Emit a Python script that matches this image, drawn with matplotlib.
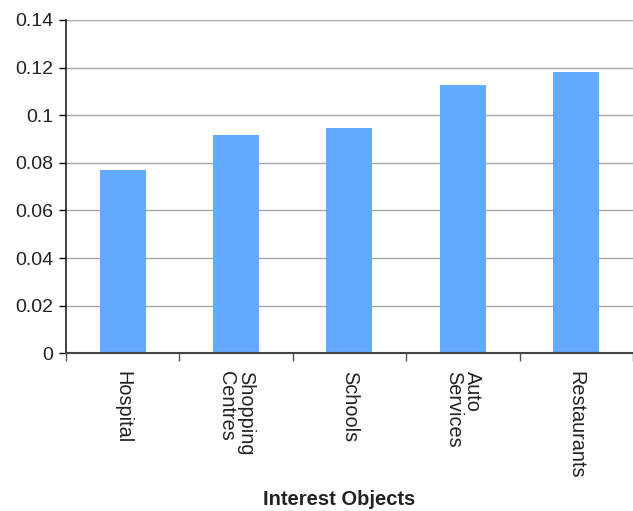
import matplotlib
matplotlib.use('Agg')
import matplotlib.pyplot as plt
import numpy as np

plt.rcParams['font.family'] = ['Liberation Sans', 'DejaVu Sans']

categories = ['Hospital', 'Shopping\nCentres', 'Schools', 'Auto\nServices', 'Restaurants']
values = [0.0770, 0.0917, 0.0946, 0.1127, 0.1181]
yticks = [0, 0.02, 0.04, 0.06, 0.08, 0.1, 0.12, 0.14]
ytick_labels = ['0', '0.02', '0.04', '0.06', '0.08', '0.1', '0.12', '0.14']

fig = plt.figure(figsize=(6.33, 5.11), dpi=100)
ax = fig.add_axes([0.104, 0.3086, 0.896, 0.6523])

x = np.arange(len(categories)) + 0.5
ax.bar(x, values, width=0.405, color='#62A9FF', zorder=2)

ax.set_xlim(0, len(categories))
ax.set_ylim(0, 0.14)

ax.set_yticks(yticks)
ax.set_yticklabels(ytick_labels, fontsize=14, color='#222222')
ax.yaxis.grid(True, color='#a8a8a8', linewidth=1.0, zorder=0)
ax.tick_params(axis='y', direction='out', length=5, width=1, pad=4)

# category boundaries get tick marks, names sit in between
ax.set_xticks(np.arange(len(categories) + 1))
ax.set_xticklabels([])
ax.set_xticks(x, minor=True)
ax.set_xticklabels(categories, minor=True, rotation=270, fontsize=14.3,
                   ha='center', va='top', multialignment='left',
                   color='#222222', linespacing=1.0)
ax.tick_params(axis='x', which='major', direction='out', length=6, width=1, color='#555555')
ax.tick_params(axis='x', which='minor', length=0, pad=13)

for s in ['top', 'right']:
    ax.spines[s].set_visible(False)
ax.spines['left'].set_color('#222222')
ax.spines['left'].set_linewidth(1.2)
ax.spines['bottom'].set_color('#444444')
ax.spines['bottom'].set_linewidth(1.5)
ax.axhline(0.14, color='#888888', linewidth=1.5, zorder=1)

fig.text(0.536, 0.003, 'Interest Objects', ha='center', va='bottom',
         fontsize=14.5, fontweight='bold', color='#222222')

fig.savefig('out.png', dpi=100)
